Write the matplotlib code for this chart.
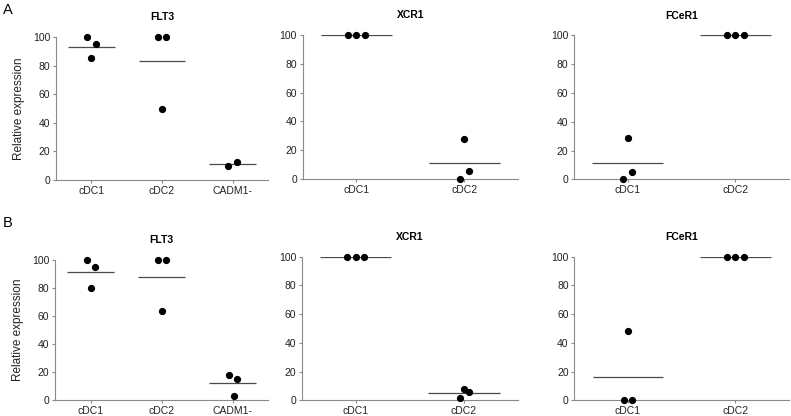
import numpy as np
import matplotlib
matplotlib.use("Agg")
import matplotlib.pyplot as plt

plt.rcParams['font.family'] = ['Liberation Sans', 'DejaVu Sans']

# Data (relative expression, %)
flt3_cats = ['cDC1', 'cDC2', 'CADM1-']
two_cats = ['cDC1', 'cDC2']

a_flt3 = [[100, 95, 85], [100, 100, 50], [9.5, 12.5]]
a_xcr1 = [[100, 100, 100], [28, 5.5, 0]]
a_fcer1 = [[29, 5, 0], [100, 100, 100]]

b_flt3 = [[100, 95, 80], [100, 100, 63.5], [18, 15, 3]]
b_xcr1 = [[100, 100, 100], [8, 5.5, 1.5]]
b_fcer1 = [[48, 0, 0], [100, 100, 100]]

# horizontal scatter of the dots inside each column (category units)
a_flt3_jit = [[-0.06, 0.07, 0.0], [-0.06, 0.06, 0.0], [-0.06, 0.06]]
a_xcr1_jit = [[-0.08, 0.0, 0.08], [0.0, 0.045, -0.04]]
a_fcer1_jit = [[0.0, 0.04, -0.04], [-0.08, 0.0, 0.08]]
b_flt3_jit = [[-0.05, 0.07, 0.01], [-0.05, 0.07, 0.01], [-0.05, 0.07, 0.02]]
b_xcr1_jit = [[-0.08, 0.0, 0.08], [0.0, 0.045, -0.04]]
b_fcer1_jit = [[0.0, -0.04, 0.04], [-0.08, 0.0, 0.08]]

W, H = 791, 416
fig = plt.figure(figsize=(W / 100, H / 100), dpi=100)

axis_grey = '#8a8a8a'
line_grey = '#4a4a4a'


def add_axes(x0, x1, ytop, ybot):
    return fig.add_axes([x0 / W, 1 - ybot / H, (x1 - x0) / W, (ybot - ytop) / H])


def draw_panel(ax, title, cats, groups, jitter, ylabel=None):
    for i, (vals, jit) in enumerate(zip(groups, jitter)):
        m = np.mean(vals)
        ax.plot([i - 0.33, i + 0.33], [m, m], color=line_grey, lw=0.9,
                solid_capstyle='butt', zorder=2)
        ax.plot(np.array(jit) + i, vals, 'o', color='black', markersize=4.2,
                clip_on=False, zorder=3)
    ax.set_xlim(-0.5, len(cats) - 0.5)
    ax.set_ylim(0, 100)
    ax.set_xticks(range(len(cats)))
    ax.set_xticklabels(cats, fontsize=7.8)
    ax.set_yticks([0, 20, 40, 60, 80, 100])
    for s in ['top', 'right']:
        ax.spines[s].set_visible(False)
    for s in ['left', 'bottom']:
        ax.spines[s].set_color(axis_grey)
        ax.spines[s].set_linewidth(0.8)
    ax.tick_params(length=2.5, width=0.8, color=axis_grey, labelsize=7.5,
                   labelcolor='#222222', pad=1.5)
    ax.set_title(title, fontsize=7.5, fontweight='bold', pad=12)
    if ylabel:
        ax.set_ylabel(ylabel, fontsize=8.5, color='#222222', labelpad=6)


ax1 = add_axes(56, 268, 37, 180)
draw_panel(ax1, 'FLT3', flt3_cats, a_flt3, a_flt3_jit, 'Relative expression')
ax2 = add_axes(302.5, 518, 35, 179)
draw_panel(ax2, 'XCR1', two_cats, a_xcr1, a_xcr1_jit)
ax3 = add_axes(574, 789, 35.3, 179.3)
draw_panel(ax3, 'FCeR1', two_cats, a_fcer1, a_fcer1_jit)

ax4 = add_axes(55, 268, 260, 400.3)
draw_panel(ax4, 'FLT3', flt3_cats, b_flt3, b_flt3_jit, 'Relative expression')
ax5 = add_axes(301.7, 518, 256.7, 400.3)
draw_panel(ax5, 'XCR1', two_cats, b_xcr1, b_xcr1_jit)
ax6 = add_axes(574.3, 789, 256.7, 400.3)
draw_panel(ax6, 'FCeR1', two_cats, b_fcer1, b_fcer1_jit)

fig.text(3 / W, 1 - 10 / H, 'A', fontsize=10.5, ha='left', va='center')
fig.text(3 / W, 1 - 223 / H, 'B', fontsize=10.5, ha='left', va='center')

fig.savefig('out.png', dpi=100)
